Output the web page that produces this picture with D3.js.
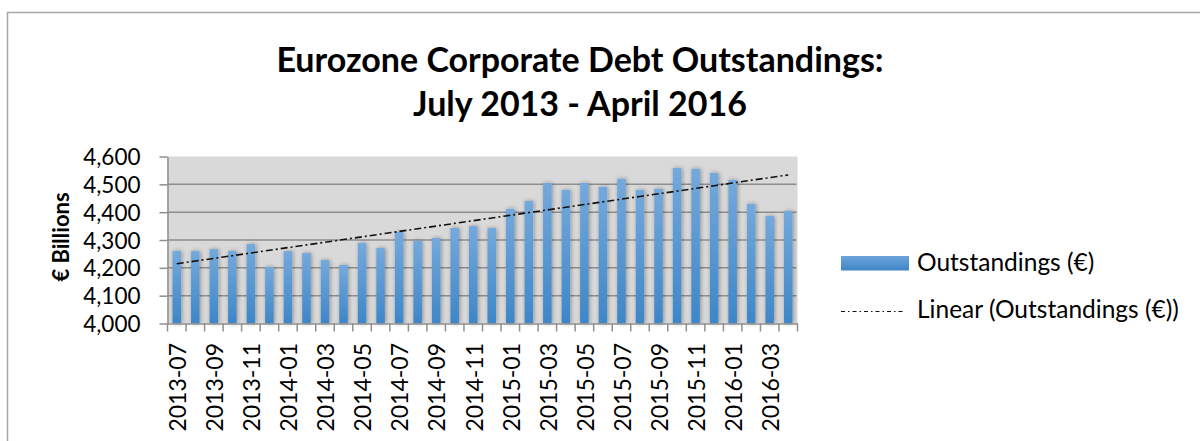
<!DOCTYPE html>
<html>
<head>
<meta charset="utf-8">
<script src="https://cdn.jsdelivr.net/npm/d3@7"></script>
<style>
  html, body { margin: 0; padding: 0; background: #fff; }
  svg { display: block; font-family: Lato, "Open Sans", sans-serif; }
</style>
</head>
<body>
<svg id="chart" width="1200" height="441"></svg>
<script>
// ---- data ----
const months = ["2013-07","2013-08","2013-09","2013-10","2013-11","2013-12",
  "2014-01","2014-02","2014-03","2014-04","2014-05","2014-06","2014-07","2014-08",
  "2014-09","2014-10","2014-11","2014-12","2015-01","2015-02","2015-03","2015-04",
  "2015-05","2015-06","2015-07","2015-08","2015-09","2015-10","2015-11","2015-12",
  "2016-01","2016-02","2016-03","2016-04"];
const outstandings = [4260,4260,4267,4260,4285,4203,4260,4253,4228,4210,4289,4271,
  4329,4297,4307,4343,4350,4343,4412,4440,4505,4480,4505,4491,4520,4480,4484,
  4559,4556,4541,4516,4430,4386,4404];
const yTicks = [4000,4100,4200,4300,4400,4500,4600];
const titleLines = ["Eurozone Corporate Debt Outstandings:", "July 2013 - April 2016"];
const yTitle = "€ Billions";
const legendLabels = ["Outstandings (€)", "Linear (Outstandings (€))"];

// ---- layout ----
const svg = d3.select("#chart");
const plot = {left: 167.5, right: 797.5, top: 156.5, bottom: 323.5};

// outer border
svg.append("path")
  .attr("d", "M7.5,441 L7.5,12.5 L1200,12.5")
  .attr("fill", "none").attr("stroke", "#a6a6a6").attr("stroke-width", 1.5);

// defs
const defs = svg.append("defs");
const grad = defs.append("linearGradient").attr("id", "barGrad")
  .attr("x1", 0).attr("y1", 0).attr("x2", 0).attr("y2", 1);
grad.append("stop").attr("offset", "0%").attr("stop-color", "#74a9dc");
grad.append("stop").attr("offset", "100%").attr("stop-color", "#3e86c7");
const legGrad = defs.append("linearGradient").attr("id", "legGrad")
  .attr("x1", 0).attr("y1", 0).attr("x2", 0).attr("y2", 1);
legGrad.append("stop").attr("offset", "0%").attr("stop-color", "#6ea5db");
legGrad.append("stop").attr("offset", "100%").attr("stop-color", "#3e86c7");
const shadow = defs.append("filter").attr("id", "shadow")
  .attr("x", "-60%").attr("y", "-10%").attr("width", "220%").attr("height", "130%");
shadow.append("feDropShadow").attr("dx", 1).attr("dy", 0).attr("stdDeviation", 2.2)
  .attr("flood-color", "#000").attr("flood-opacity", 0.35);

// scales
const x = d3.scaleBand().domain(months).range([plot.left, plot.right])
  .paddingInner(0.54).paddingOuter(0.27);
const xCat = d3.scaleBand().domain(months).range([plot.left, plot.right]);
const y = d3.scaleLinear().domain([4000, 4600]).range([plot.bottom, plot.top]);

// plot background
svg.append("rect")
  .attr("x", plot.left).attr("y", plot.top)
  .attr("width", plot.right - plot.left).attr("height", plot.bottom - plot.top)
  .attr("fill", "#d9d9d9");

// gridlines
svg.append("g").selectAll("line").data(yTicks.filter(d => d > 4000 && d < 4600)).join("line")
  .attr("x1", plot.left).attr("x2", plot.right - 1)
  .attr("y1", d => y(d)).attr("y2", d => y(d))
  .attr("stroke", "#8e8e8e").attr("stroke-width", 1.5);

// bars
svg.append("g").selectAll("rect").data(outstandings).join("rect")
  .attr("x", (d, i) => x(months[i]))
  .attr("width", x.bandwidth())
  .attr("y", d => y(d))
  .attr("height", d => y(4000) - y(d))
  .attr("fill", "url(#barGrad)")
  .attr("filter", "url(#shadow)");

// linear trendline (least squares over the series)
const n = outstandings.length;
const xs = d3.range(1, n + 1);
const mx = d3.mean(xs), my = d3.mean(outstandings);
const slope = d3.sum(xs, (v, i) => (v - mx) * (outstandings[i] - my)) / d3.sum(xs, v => (v - mx) ** 2);
const intercept = my - slope * mx;
const trend = xs.map(v => intercept + slope * v);
svg.append("path")
  .datum(trend)
  .attr("d", d3.line().x((d, i) => xCat(months[i]) + xCat.bandwidth() / 2).y(d => y(d)))
  .attr("fill", "none").attr("stroke", "#111").attr("stroke-width", 1.6)
  .attr("stroke-dasharray", "7,3,2,3");

// y axis
const yAxis = d3.axisLeft(y).tickValues(yTicks).tickSize(8).tickSizeOuter(0)
  .tickFormat(d3.format(","));
const yg = svg.append("g").attr("transform", `translate(${plot.left},0)`).call(yAxis);
yg.select(".domain").attr("stroke", "#8e8e8e").attr("stroke-width", 1.5);
yg.selectAll(".tick line").attr("stroke", "#8e8e8e").attr("stroke-width", 1.5);
yg.selectAll(".tick text").attr("x", -27).attr("dy", "0.36em")
  .attr("font-size", 22.5).attr("fill", "#000").attr("font-family", "Lato");

// x axis
const xAxis = d3.axisBottom(xCat).tickSize(0).tickSizeOuter(0).tickFormat("");
const xg = svg.append("g").attr("transform", `translate(0,${plot.bottom})`).call(xAxis);
xg.select(".domain").attr("stroke", "#8e8e8e").attr("stroke-width", 1.5);
xg.selectAll(".tick").remove();
// category boundary tick marks
const bounds = months.map(m => xCat(m)).concat([plot.right]);
svg.append("g").selectAll("line").data(bounds).join("line")
  .attr("x1", d => d).attr("x2", d => d)
  .attr("y1", plot.bottom).attr("y2", plot.bottom + 8)
  .attr("stroke", "#8e8e8e").attr("stroke-width", 1.5);
// labels every other month
svg.append("g").selectAll("text").data(months.filter((m, i) => i % 2 === 0)).join("text")
  .attr("transform", d => `translate(${xCat(d) + xCat.bandwidth() / 2 + 1},343) rotate(-90)`)
  .attr("text-anchor", "end").attr("dy", "0.36em")
  .attr("font-size", 23).attr("fill", "#000")
  .text(d => d);

// y title
svg.append("text")
  .attr("transform", "translate(61,237) rotate(-90)")
  .attr("text-anchor", "middle").attr("dy", "0.36em")
  .attr("font-size", 22).attr("font-weight", "bold").attr("fill", "#000")
  .text(yTitle);

// title
svg.append("g").selectAll("text").data(titleLines).join("text")
  .attr("x", 580).attr("y", (d, i) => i === 0 ? 72 : 116)
  .attr("text-anchor", "middle")
  .attr("font-size", 34).attr("font-weight", "bold").attr("fill", "#000")
  .text(d => d);

// legend
const leg = svg.append("g");
leg.append("rect").attr("x", 841).attr("y", 256).attr("width", 68).attr("height", 14.5)
  .attr("fill", "url(#legGrad)");
leg.append("text").attr("x", 917).attr("y", 270.5)
  .attr("font-size", 24.5).attr("fill", "#000").text(legendLabels[0]);
leg.append("line").attr("x1", 841).attr("x2", 903).attr("y1", 311.5).attr("y2", 311.5)
  .attr("stroke", "#111").attr("stroke-width", 1).attr("stroke-dasharray", "4,3,1.5,3");
leg.append("text").attr("x", 917).attr("y", 318)
  .attr("font-size", 24.5).attr("fill", "#000").text(legendLabels[1]);
</script>
</body>
</html>
